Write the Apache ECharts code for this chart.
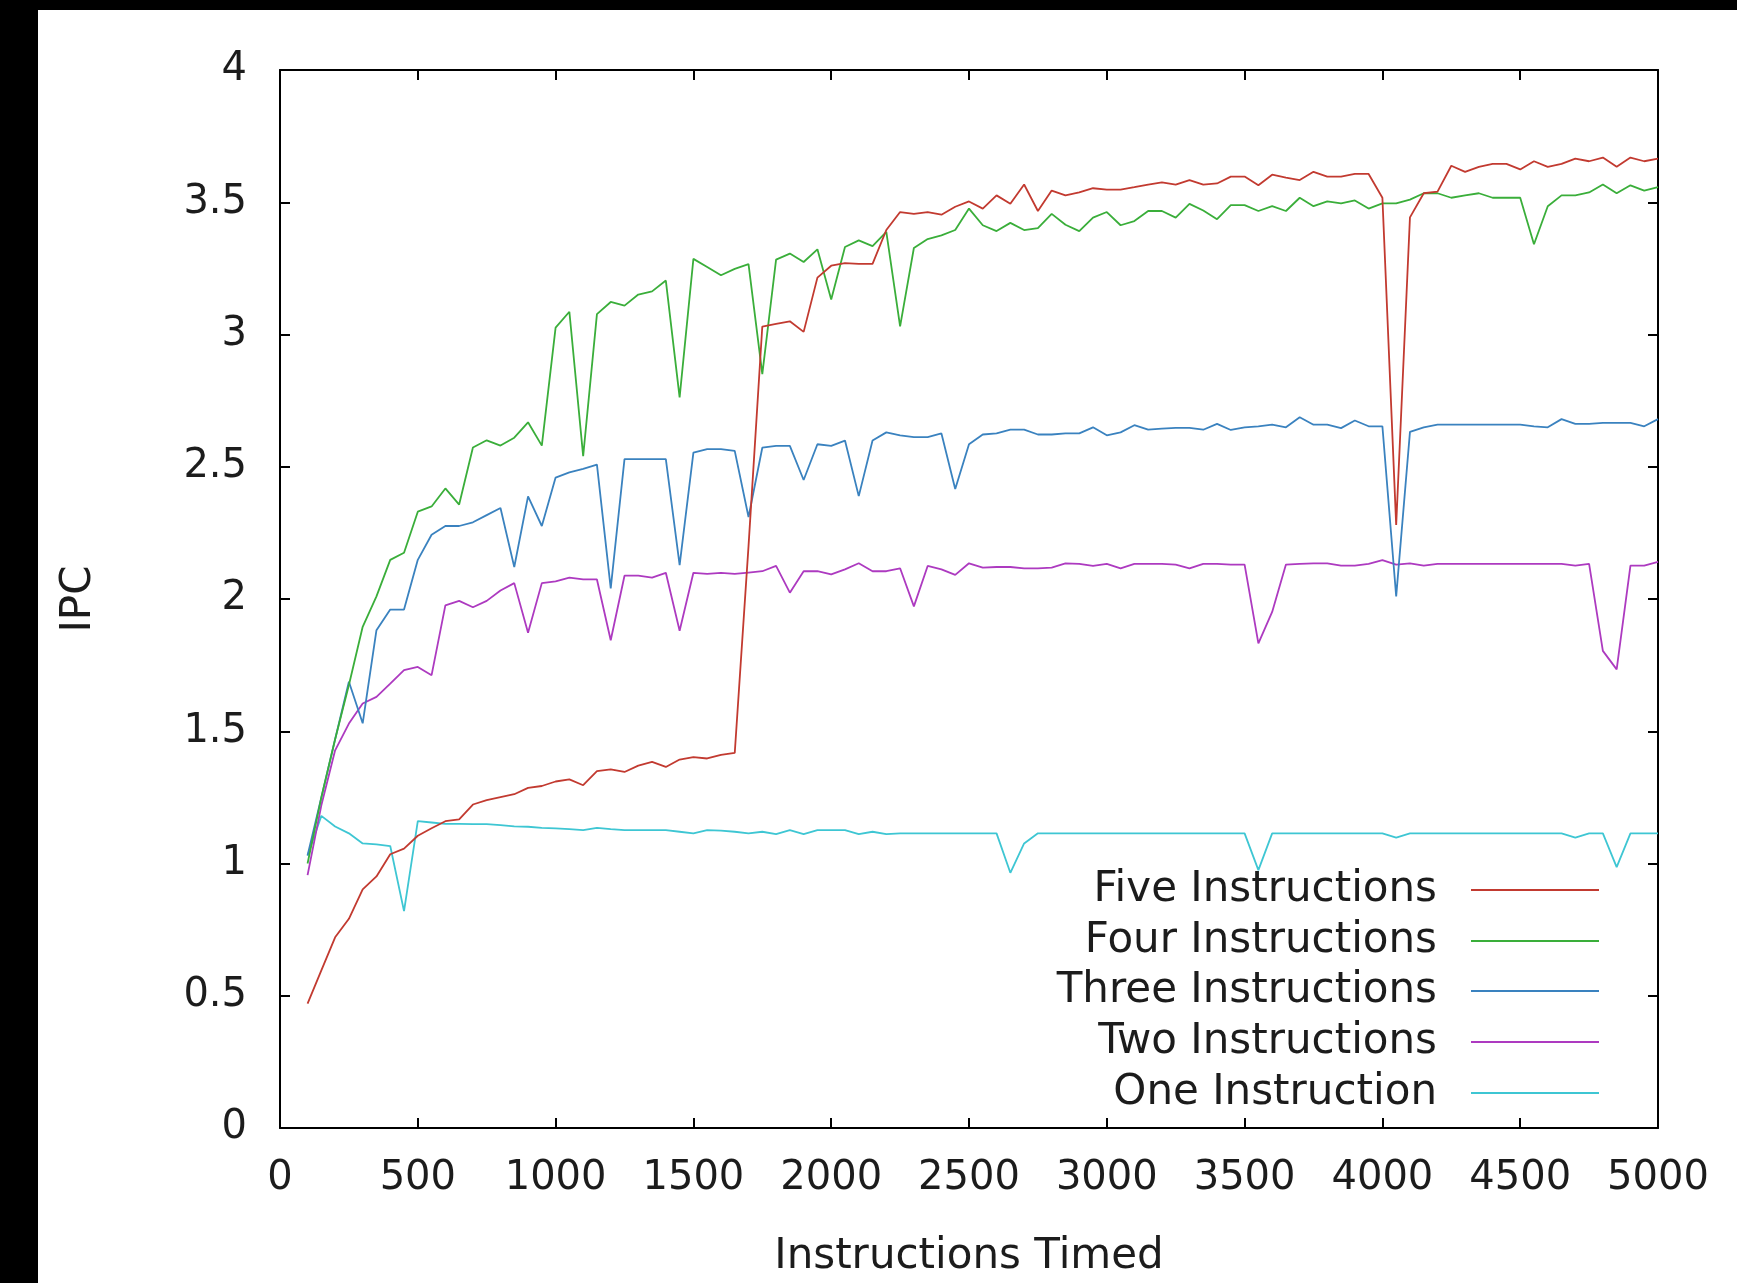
<!DOCTYPE html>
<html>
<head>
<meta charset="utf-8">
<script src="https://cdn.jsdelivr.net/npm/echarts/dist/echarts.min.js"></script>
<style>
html,body{margin:0;padding:0;background:#fff;}
#chart{width:1737px;height:1283px;}
</style>
</head>
<body>
<div id="chart"></div>
<script>
// x positions (Instructions Timed)
const xs = [
  100,150,200,250,300,350,400,450,500,550,
  600,650,700,750,800,850,900,950,1000,1050,
  1100,1150,1200,1250,1300,1350,1400,1450,1500,1550,
  1600,1650,1700,1750,1800,1850,1900,1950,2000,2050,
  2100,2150,2200,2250,2300,2350,2400,2450,2500,2550,
  2600,2650,2700,2750,2800,2850,2900,2950,3000,3050,
  3100,3150,3200,3250,3300,3350,3400,3450,3500,3550,
  3600,3650,3700,3750,3800,3850,3900,3950,4000,4050,
  4100,4150,4200,4250,4300,4350,4400,4450,4500,4550,
  4600,4650,4700,4750,4800,4850,4900,4950,5000
];
const fiveInstr = [
  0.47,0.596,0.721,0.791,0.902,0.951,1.035,1.056,1.105,1.133,
  1.16,1.167,1.223,1.24,1.251,1.262,1.286,1.293,1.31,1.318,
  1.296,1.349,1.356,1.346,1.37,1.384,1.365,1.393,1.402,1.397,
  1.411,1.418,2.2,3.03,3.04,3.05,3.01,3.215,3.26,3.27,
  3.267,3.267,3.395,3.463,3.456,3.463,3.453,3.483,3.503,3.476,
  3.526,3.494,3.567,3.467,3.544,3.526,3.537,3.553,3.548,3.548,
  3.557,3.567,3.575,3.567,3.584,3.567,3.571,3.597,3.597,3.564,
  3.604,3.593,3.584,3.615,3.597,3.597,3.607,3.607,3.517,2.28,
  3.443,3.534,3.54,3.638,3.615,3.634,3.645,3.645,3.624,3.655,
  3.634,3.645,3.665,3.655,3.669,3.634,3.669,3.655,3.665
];
const fourInstr = [
  1.0,1.25,1.47,1.675,1.895,2.01,2.148,2.175,2.33,2.35,
  2.418,2.357,2.573,2.60,2.58,2.61,2.668,2.58,3.026,3.086,
  2.54,3.077,3.123,3.109,3.151,3.163,3.204,2.762,3.286,3.255,
  3.224,3.248,3.266,2.85,3.283,3.306,3.274,3.322,3.132,3.331,
  3.356,3.334,3.388,3.031,3.327,3.361,3.375,3.395,3.476,3.413,
  3.391,3.422,3.395,3.402,3.456,3.415,3.391,3.442,3.463,3.413,
  3.429,3.467,3.467,3.442,3.494,3.469,3.436,3.489,3.489,3.467,
  3.485,3.467,3.517,3.485,3.503,3.496,3.507,3.476,3.496,3.496,
  3.51,3.534,3.534,3.517,3.526,3.534,3.517,3.517,3.517,3.341,
  3.485,3.526,3.526,3.537,3.567,3.534,3.564,3.544,3.557
];
const threeInstr = [
  1.03,1.25,1.47,1.687,1.53,1.882,1.96,1.96,2.148,2.243,
  2.276,2.276,2.29,2.317,2.344,2.121,2.388,2.276,2.459,2.479,
  2.492,2.508,2.04,2.529,2.529,2.529,2.529,2.128,2.553,2.567,
  2.567,2.56,2.31,2.572,2.579,2.579,2.45,2.585,2.579,2.599,
  2.389,2.599,2.63,2.619,2.612,2.612,2.626,2.416,2.585,2.622,
  2.626,2.64,2.64,2.622,2.622,2.626,2.626,2.649,2.619,2.63,
  2.657,2.64,2.644,2.647,2.647,2.64,2.662,2.639,2.649,2.653,
  2.659,2.649,2.687,2.659,2.659,2.646,2.675,2.653,2.653,2.01,
  2.632,2.649,2.659,2.659,2.659,2.659,2.659,2.659,2.659,2.653,
  2.649,2.68,2.662,2.662,2.666,2.666,2.666,2.653,2.68
];
const twoInstr = [
  0.956,1.22,1.428,1.529,1.605,1.63,1.68,1.731,1.743,1.712,
  1.976,1.993,1.969,1.993,2.032,2.06,1.872,2.06,2.067,2.081,
  2.074,2.074,1.844,2.088,2.088,2.081,2.099,1.88,2.099,2.095,
  2.099,2.095,2.10,2.105,2.125,2.024,2.105,2.105,2.093,2.112,
  2.135,2.105,2.105,2.116,1.972,2.125,2.112,2.091,2.135,2.119,
  2.121,2.121,2.116,2.116,2.119,2.135,2.133,2.125,2.133,2.116,
  2.133,2.133,2.133,2.13,2.116,2.133,2.133,2.13,2.13,1.832,
  1.951,2.13,2.133,2.135,2.135,2.126,2.126,2.133,2.147,2.13,
  2.135,2.126,2.133,2.133,2.133,2.133,2.133,2.133,2.133,2.133,
  2.133,2.133,2.126,2.133,1.804,1.734,2.126,2.126,2.14
];
const oneInstr = [
  1.03,1.18,1.14,1.114,1.076,1.072,1.066,0.82,1.16,1.155,
  1.15,1.15,1.149,1.149,1.145,1.14,1.139,1.135,1.133,1.13,
  1.126,1.135,1.13,1.126,1.126,1.126,1.126,1.12,1.114,1.126,
  1.124,1.12,1.114,1.12,1.111,1.126,1.111,1.126,1.126,1.126,
  1.111,1.12,1.111,1.114,1.114,1.114,1.114,1.114,1.114,1.114,
  1.114,0.965,1.076,1.114,1.114,1.114,1.114,1.114,1.114,1.114,
  1.114,1.114,1.114,1.114,1.114,1.114,1.114,1.114,1.114,0.975,
  1.114,1.114,1.114,1.114,1.114,1.114,1.114,1.114,1.114,1.098,
  1.114,1.114,1.114,1.114,1.114,1.114,1.114,1.114,1.114,1.114,
  1.114,1.114,1.098,1.114,1.114,0.986,1.114,1.114,1.114
];
const seriesNames = ['Five Instructions','Four Instructions','Three Instructions','Two Instructions','One Instruction'];
const seriesValues = [fiveInstr, fourInstr, threeInstr, twoInstr, oneInstr];
const seriesColors = ['#c23a30','#3aae3a','#3a82bf','#ad3ac0','#3ec6d3'];
const xTicks = {min:0, max:5000, interval:500};
const yTicks = {min:0, max:4, interval:0.5};

const FONT = 'DejaVu Sans';
const TXT = '#1c1c1c';

const chart = echarts.init(document.getElementById('chart'), null, {renderer:'canvas'});

function mkAxis(base, pos, showLabel, margin) {
  return Object.assign({
    type:'value',
    position: pos,
    splitLine:{show:false},
    axisLine:{show:true, onZero:false, lineStyle:{color:'#000', width:2}},
    axisTick:{show:true, inside:true, length:10, lineStyle:{color:'#000', width:2}},
    axisLabel:{show:showLabel, margin:margin, fontFamily:FONT, fontSize:40, color:TXT,
      formatter:function(v){ return String(v); }}
  }, base);
}

const legendRowTops = [869, 920, 970, 1021, 1072];

const option = {
  animation:false,
  backgroundColor:'#fff',
  grid:{left:280, right:79, top:70, bottom:155, containLabel:false},
  xAxis:[
    mkAxis(Object.assign({}, xTicks, {
      name:'Instructions Timed', nameLocation:'middle', nameGap:108,
      nameTextStyle:{fontFamily:FONT, fontSize:42, color:TXT}
    }), 'bottom', true, 31),
    mkAxis(Object.assign({}, xTicks), 'top', false, 8)
  ],
  yAxis:[
    mkAxis(Object.assign({}, yTicks, {
      name:'IPC', nameLocation:'middle', nameGap:180,
      nameTextStyle:{fontFamily:FONT, fontSize:42, color:TXT}
    }), 'left', true, 33),
    mkAxis(Object.assign({}, yTicks), 'right', false, 8)
  ],
  legend: seriesNames.map((n, i) => ({
    data:[n],
    right:138,
    top:legendRowTops[i],
    orient:'horizontal',
    align:'right',
    icon:'rect',
    itemWidth:128,
    itemHeight:2,
    padding:0,
    selectedMode:false,
    textStyle:{fontFamily:FONT, fontSize:42, color:TXT, padding:[0,29,0,0]}
  })),
  graphic:[
    {type:'rect', left:0, top:0, shape:{x:0, y:0, width:38, height:1283}, style:{fill:'#000'}, z:100},
    {type:'rect', left:0, top:0, shape:{x:0, y:0, width:1737, height:10}, style:{fill:'#000'}, z:100}
  ],
  series: seriesNames.map((n, i) => ({
    name:n,
    type:'line',
    xAxisIndex:0,
    yAxisIndex:0,
    showSymbol:false,
    symbol:'none',
    color:seriesColors[i],
    lineStyle:{width:1.8, color:seriesColors[i]},
    data: xs.map((x, k) => [x, seriesValues[i][k]]),
    z: 10 - i
  }))
};
chart.setOption(option);
</script>
</body>
</html>
